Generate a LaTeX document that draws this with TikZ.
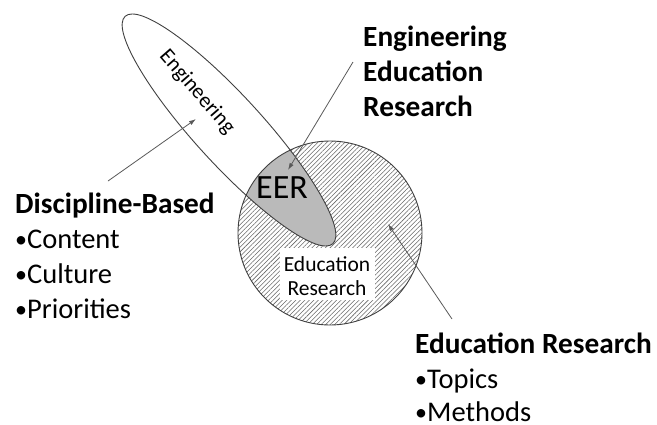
\documentclass[tikz,border=0pt]{standalone}
\usepackage{fontspec}
\setmainfont{Carlito}
\usetikzlibrary{patterns.meta,arrows.meta}
\newcommand{\smbul}{{\fontsize{24}{24}\selectfont\raisebox{1pt}{•}}}
\begin{document}
\begin{tikzpicture}[x=1pt,y=-1pt,
  outline/.style={draw=black!75, line width=0.9pt},
  pointer/.style={draw=black!65, line width=0.8pt, -{Latex[length=7pt,width=4.5pt]}},
  bighead/.style={font=\fontsize{29.3}{34}\selectfont\bfseries, anchor=base west, inner sep=0pt},
  bigitem/.style={font=\fontsize{28.5}{34}\selectfont, anchor=base west, inner sep=0pt},
  smalllab/.style={font=\fontsize{21.5}{22}\selectfont, inner sep=0pt},
]
\useasboundingbox (0,0) rectangle (657,424);
% circle hatch
\path[pattern={Lines[angle=45,distance=3.2pt,line width=0.55pt]}, pattern color=black!60]
  (330,233) circle[radius=92];
% intersection grey
\begin{scope}
  \clip (330,233) circle[radius=92];
  \fill[fill=black!27, shift={(229,130)}, rotate=-47.6] (0,0) ellipse[x radius=154, y radius=34];
\end{scope}
% white box
\fill[white] (280,248) rectangle (375,300);
% outlines
\draw[outline, shift={(229,130)}, rotate=-47.6] (0,0) ellipse[x radius=154, y radius=34];
\draw[outline] (330,233) circle[radius=92];
% labels inside shapes
\node[smalllab, rotate=-49] (eng) at (197,92) {Engineering};
\node[font=\fontsize{34}{36}\selectfont, anchor=base, inner sep=0pt] (eer) at (282,198) {EER};
\node[smalllab, anchor=base] (edu1) at (327,271) {Education};
\node[smalllab, anchor=base] (edu2) at (327,295) {Research};
% Discipline-Based
\node[bighead] (db) at (15,213) {Discipline-Based};
\node[bigitem] (db1) at (15,248) {\smbul Content};
\node[bigitem] (db2) at (15,283) {\smbul Culture};
\node[bigitem] (db3) at (15,318) {\smbul Priorities};
% EER
\node[bighead] (eer1) at (363,46) {Engineering};
\node[bighead] (eer2) at (363,81) {Education};
\node[bighead] (eer3) at (363,116) {Research};
% Education Research
\node[bighead] (er) at (415,353) {Education Research};
\node[bigitem] (er1) at (415,388) {\smbul Topics};
\node[bigitem] (er2) at (415,421) {\smbul Methods};
% arrows
\coordinate (a1s) at (108,181);
\coordinate (a1e) at (196,119);
\coordinate (a2s) at (353,62);
\coordinate (a2e) at (288,170);
\coordinate (a3s) at (452,319);
\coordinate (a3e) at (388,224);
\draw[pointer] (a1s) -- (a1e);
\draw[pointer] (a2s) -- (a2e);
\draw[pointer] (a3s) -- (a3e);
\end{tikzpicture}
\end{document}
